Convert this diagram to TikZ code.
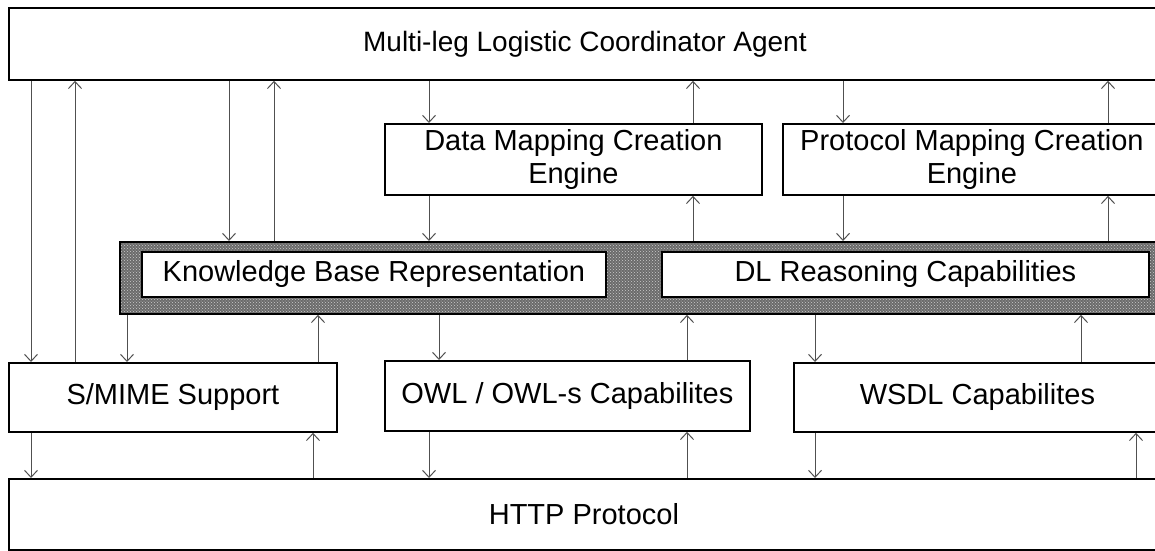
\documentclass[tikz,border=0pt]{standalone}
\usepackage{fontspec}
\setmainfont{Liberation Sans}
\usetikzlibrary{arrows.meta,patterns}
\definecolor{wire}{HTML}{505050}

\begin{document}
\begin{tikzpicture}[x=1pt, y=-1pt,
  box/.style={draw, line width=1.8pt, anchor=north west, align=center, inner sep=0pt, fill=white, font=\fontsize{29}{33}\selectfont},
  shade/.style={draw, line width=1.8pt, anchor=north west, inner sep=0pt, preaction={fill=black!58}, pattern=crosshatch dots, pattern color=black!20},
  arr/.style={-{Straight Barb[length=7pt,width=13pt]}, line width=1pt, draw=wire}
]
\useasboundingbox (0,0) rectangle (1155,550);
\clip (0,0) rectangle (1155,550);

\node[box, minimum width=1152pt, minimum height=72pt, font=\fontsize{28}{33}\selectfont] (agent) at (8,7) {Multi-leg Logistic Coordinator Agent};
\node[box, minimum width=377pt, minimum height=71pt] (dmce) at (384,123) {Data Mapping Creation\\Engine};
\node[box, minimum width=378pt, minimum height=71pt] (pmce) at (782,123) {Protocol Mapping Creation\\Engine};
\node[shade, minimum width=1060pt, minimum height=72pt] (band) at (119,241) {};
\node[box, minimum width=464pt, minimum height=45pt] (kb) at (141,251) {Knowledge Base Representation};
\node[box, minimum width=487pt, minimum height=45pt] (dl) at (661,251) {DL Reasoning Capabilities};
\node[box, minimum width=328pt, minimum height=69pt] (smime) at (8,362) {S/MIME Support};
\node[box, minimum width=365pt, minimum height=70pt] (owl) at (384,360) {OWL / OWL-s Capabilites};
\node[box, minimum width=367pt, minimum height=69pt] (wsdl) at (793,362) {WSDL Capabilites};
\node[box, minimum width=1150pt, minimum height=71pt] (http) at (8,478) {HTTP Protocol};

\draw[arr] (31,0 |- agent.south) -- (31,0 |- smime.north);
\draw[arr] (75,0 |- smime.north) -- (75,0 |- agent.south);
\draw[arr] (229,0 |- agent.south) -- (229,0 |- band.north);
\draw[arr] (274,0 |- band.north) -- (274,0 |- agent.south);
\draw[arr] (429,0 |- agent.south) -- (429,0 |- dmce.north);
\draw[arr] (429,0 |- dmce.south) -- (429,0 |- band.north);
\draw[arr] (693,0 |- dmce.north) -- (693,0 |- agent.south);
\draw[arr] (693,0 |- band.north) -- (693,0 |- dmce.south);
\draw[arr] (843,0 |- agent.south) -- (843,0 |- pmce.north);
\draw[arr] (843,0 |- pmce.south) -- (843,0 |- band.north);
\draw[arr] (1108,0 |- pmce.north) -- (1108,0 |- agent.south);
\draw[arr] (1108,0 |- band.north) -- (1108,0 |- pmce.south);

\draw[arr] (127,0 |- band.south) -- (127,0 |- smime.north);
\draw[arr] (318,0 |- smime.north) -- (318,0 |- band.south);
\draw[arr] (439,0 |- band.south) -- (439,0 |- owl.north);
\draw[arr] (687,0 |- owl.north) -- (687,0 |- band.south);
\draw[arr] (815,0 |- band.south) -- (815,0 |- wsdl.north);
\draw[arr] (1081,0 |- wsdl.north) -- (1081,0 |- band.south);

\draw[arr] (31,0 |- smime.south) -- (31,0 |- http.north);
\draw[arr] (313,0 |- http.north) -- (313,0 |- smime.south);
\draw[arr] (429,0 |- owl.south) -- (429,0 |- http.north);
\draw[arr] (687,0 |- http.north) -- (687,0 |- owl.south);
\draw[arr] (815,0 |- wsdl.south) -- (815,0 |- http.north);
\draw[arr] (1136,0 |- http.north) -- (1136,0 |- wsdl.south);
\end{tikzpicture}
\end{document}
